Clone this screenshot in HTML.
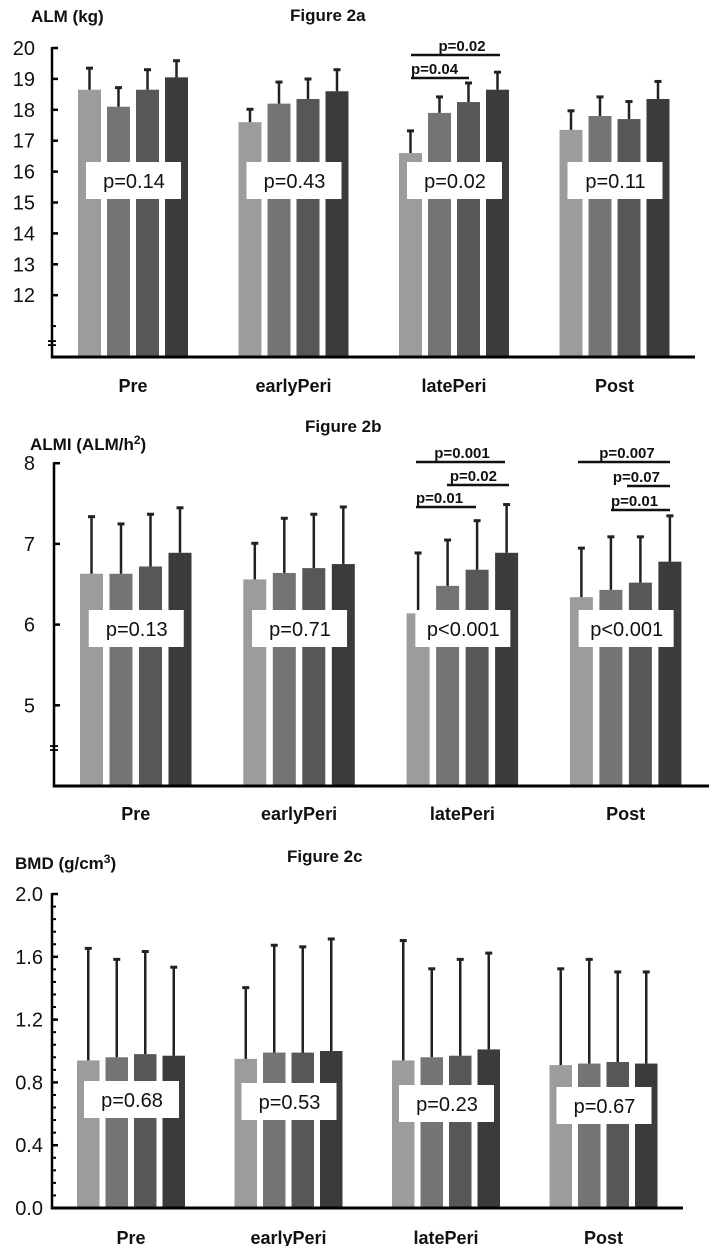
<!DOCTYPE html>
<html><head><meta charset="utf-8">
<style>
html,body{margin:0;padding:0;background:#fff;width:709px;height:1246px;overflow:hidden}
svg{display:block;font-family:"Liberation Sans",sans-serif}
</style></head>
<body>
<svg id="fig" width="709" height="1246" viewBox="0 0 709 1246" xmlns="http://www.w3.org/2000/svg"></svg>
<script>
// ---------- data ----------
const categories = ["Pre","earlyPeri","latePeri","Post"];
const seriesColors = ["#9c9c9c","#747474","#575757","#3b3b3b"];

// Figure 2a ALM (kg): values per category (4 series each) and upper error bar tops
const almValues = [[18.65,18.1,18.65,19.05],[17.6,18.2,18.35,18.6],[16.6,17.9,18.25,18.65],[17.35,17.8,17.7,18.35]];
const almErrTops = [[19.38,18.75,19.33,19.62],[18.05,18.93,19.03,19.33],[17.35,18.45,18.9,19.25],[18.0,18.45,18.3,18.95]];
const almTicks = [12,13,14,15,16,17,18,19,20];
const almPvals = ["p=0.14","p=0.43","p=0.02","p=0.11"];

// Figure 2b ALMI
const almiValues = [[6.63,6.63,6.72,6.89],[6.56,6.64,6.70,6.75],[6.14,6.48,6.68,6.89],[6.34,6.43,6.52,6.78]];
const almiErrTops = [[7.35,7.26,7.38,7.46],[7.02,7.33,7.38,7.47],[6.90,7.06,7.30,7.50],[6.96,7.10,7.10,7.36]];
const almiTicks = [5,6,7,8];
const almiPvals = ["p=0.13","p=0.71","p<0.001","p<0.001"];

// Figure 2c BMD
const bmdValues = [[0.94,0.96,0.98,0.97],[0.95,0.99,0.99,1.00],[0.94,0.96,0.97,1.01],[0.91,0.92,0.93,0.92]];
const bmdErrTops = [[1.66,1.59,1.64,1.54],[1.41,1.68,1.67,1.72],[1.71,1.53,1.59,1.63],[1.53,1.59,1.51,1.51]];
const bmdTicks = [0.0,0.4,0.8,1.2,1.6,2.0];
const bmdPvals = ["p=0.68","p=0.53","p=0.23","p=0.67"];

// ---------- rendering ----------
const NS="http://www.w3.org/2000/svg";
const svg=document.getElementById('fig');
function mk(tag,attrs,parent,text){
  const e=document.createElementNS(NS,tag);
  for(const k in attrs)e.setAttribute(k,attrs[k]);
  if(text!==undefined)e.textContent=text;
  (parent||svg).appendChild(e);return e;
}

function drawChart(cfg){
  const g=mk('g',{});
  
  
  const y=v=>cfg.base-(v-cfg.vmin)*cfg.ppu;
  const barX=(c,s)=>cfg.first+c*cfg.gstep+s*cfg.bstep;
  const t1=mk('text',{x:cfg.titleX,y:cfg.titleY,'font-size':17,'font-weight':'bold',fill:'#111'},g,cfg.title);
  
  
  const t2=mk('text',{x:cfg.ylabX,y:cfg.ylabY,'font-size':17,'font-weight':'bold',fill:'#111'},g);
  
  
  t2.innerHTML=cfg.ylab;
  cfg.values.forEach((row,c)=>{
    row.forEach((v,s)=>{
      const x=barX(c,s);
      const r=mk('rect',{x:x,y:y(v),width:cfg.bw,height:cfg.base-y(v),fill:seriesColors[s]},g);
      
      
      const cx=x+cfg.bw/2, et=y(cfg.errs[c][s]);
      const l=mk('line',{x1:cx,x2:cx,y1:y(v),y2:et,stroke:'#222','stroke-width':2.5},g);
      
      
      mk('line',{x1:cx-3.5,x2:cx+3.5,y1:et+1,y2:et+1,stroke:'#222','stroke-width':3},g);
    });
    const gc=barX(c,0)+(3*cfg.bstep+cfg.bw)/2;
    const by=cfg.boxY[c];
    const b=mk('rect',{x:gc-47,y:by,width:95,height:37,fill:'#fff'},g);
    
    
    const pt=mk('text',{x:gc+1,y:by+26,'font-size':20,'text-anchor':'middle',fill:'#111'},g,cfg.pvals[c]);
    
    
    const cl=mk('text',{x:gc,y:cfg.catY,'font-size':18,'font-weight':'bold','text-anchor':'middle',fill:'#111'},g,categories[c]);
    
    
  });
  const ya=mk('line',{x1:cfg.ax,x2:cfg.ax,y1:y(cfg.vmax)-1,y2:cfg.base+1.5,stroke:'#000','stroke-width':2.5},g);
  
  
  const xa=mk('line',{x1:cfg.ax-1,x2:cfg.axEnd,y1:cfg.base,y2:cfg.base,stroke:'#000','stroke-width':3},g);
  
  
  cfg.ticks.forEach(t=>{
    mk('line',{x1:cfg.ax,x2:cfg.ax+6,y1:y(t),y2:y(t),stroke:'#000','stroke-width':2.5},g);
    const tl=mk('text',{x:cfg.labR,y:y(t)+7,'font-size':20,'text-anchor':'end',fill:'#111'},g,cfg.fmt(t));
    
    
  });
  (cfg.minor||[]).forEach(t=>mk('line',{x1:cfg.ax,x2:cfg.ax+4,y1:y(t),y2:y(t),stroke:'#000','stroke-width':2},g));
  if(cfg.brk){
    const by=y(cfg.brk);
    mk('line',{x1:cfg.ax-4,x2:cfg.ax+4,y1:by-2,y2:by-2,stroke:'#000','stroke-width':1.8},g);
    mk('line',{x1:cfg.ax-4,x2:cfg.ax+4,y1:by+2,y2:by+2,stroke:'#000','stroke-width':1.8},g);
  }
  (cfg.sig||[]).forEach(s=>{
    const sl=mk('line',{x1:s.x1,x2:s.x2,y1:s.y,y2:s.y,stroke:'#111','stroke-width':2.5},g);
    
    
    const st=mk('text',{x:s.tx,y:s.y-4,'font-size':15,'font-weight':'bold','text-anchor':s.anchor,fill:'#111'},g,s.t);
    
    
  });
}

drawChart({name:'chart-2a',title:'Figure 2a',titleX:290,titleY:21,ylab:'ALM (kg)',ylabX:31,ylabY:22,
  values:almValues,errs:almErrTops,ticks:almTicks,pvals:almPvals,minor:[11],brk:10.45,
  vmin:10,vmax:20,base:357,ppu:30.9,ax:52,axEnd:695,first:78,bw:23,bstep:29,gstep:160.5,
  labR:35,catY:392,boxY:[162,162,162,162],fmt:v=>String(v),
  sig:[{x1:411,x2:500,y:55,t:'p=0.02',tx:462,anchor:'middle'},{x1:411,x2:469,y:78,t:'p=0.04',tx:411,anchor:'start'}]});

drawChart({name:'chart-2b',title:'Figure 2b',titleX:305,titleY:432,ylab:'ALMI (ALM/h<tspan font-size="12" dy="-6">2</tspan><tspan dy="6">)</tspan>',ylabX:30,ylabY:450,
  values:almiValues,errs:almiErrTops,ticks:almiTicks,pvals:almiPvals,brk:4.47,
  vmin:4,vmax:8,base:786,ppu:80.7,ax:54,axEnd:709,first:80,bw:23,bstep:29.5,gstep:163.3,
  labR:35,catY:820,boxY:[610,610,610,610],fmt:v=>String(v),
  sig:[{x1:416,x2:505,y:462,t:'p=0.001',tx:462,anchor:'middle'},{x1:447,x2:509,y:485,t:'p=0.02',tx:497,anchor:'end'},{x1:416,x2:476,y:507,t:'p=0.01',tx:416,anchor:'start'},
       {x1:578,x2:670,y:462,t:'p=0.007',tx:627,anchor:'middle'},{x1:627,x2:670,y:486,t:'p=0.07',tx:660,anchor:'end'},{x1:611,x2:670,y:510,t:'p=0.01',tx:611,anchor:'start'}]});

drawChart({name:'chart-2c',title:'Figure 2c',titleX:287,titleY:862,ylab:'BMD (g/cm<tspan font-size="12" dy="-6">3</tspan><tspan dy="6">)</tspan>',ylabX:15,ylabY:869,
  values:bmdValues,errs:bmdErrTops,ticks:bmdTicks,pvals:bmdPvals,
  minor:[0.08,0.16,0.24,0.32,0.48,0.56,0.64,0.72,0.88,0.96,1.04,1.12,1.28,1.36,1.44,1.52,1.68,1.76,1.84,1.92],
  vmin:0,vmax:2,base:1208,ppu:157,ax:52,axEnd:683,first:77,bw:22.5,bstep:28.5,gstep:157.5,
  labR:43,catY:1244,boxY:[1081,1083,1085,1087],fmt:v=>v.toFixed(1)});
</script>
</body></html>
